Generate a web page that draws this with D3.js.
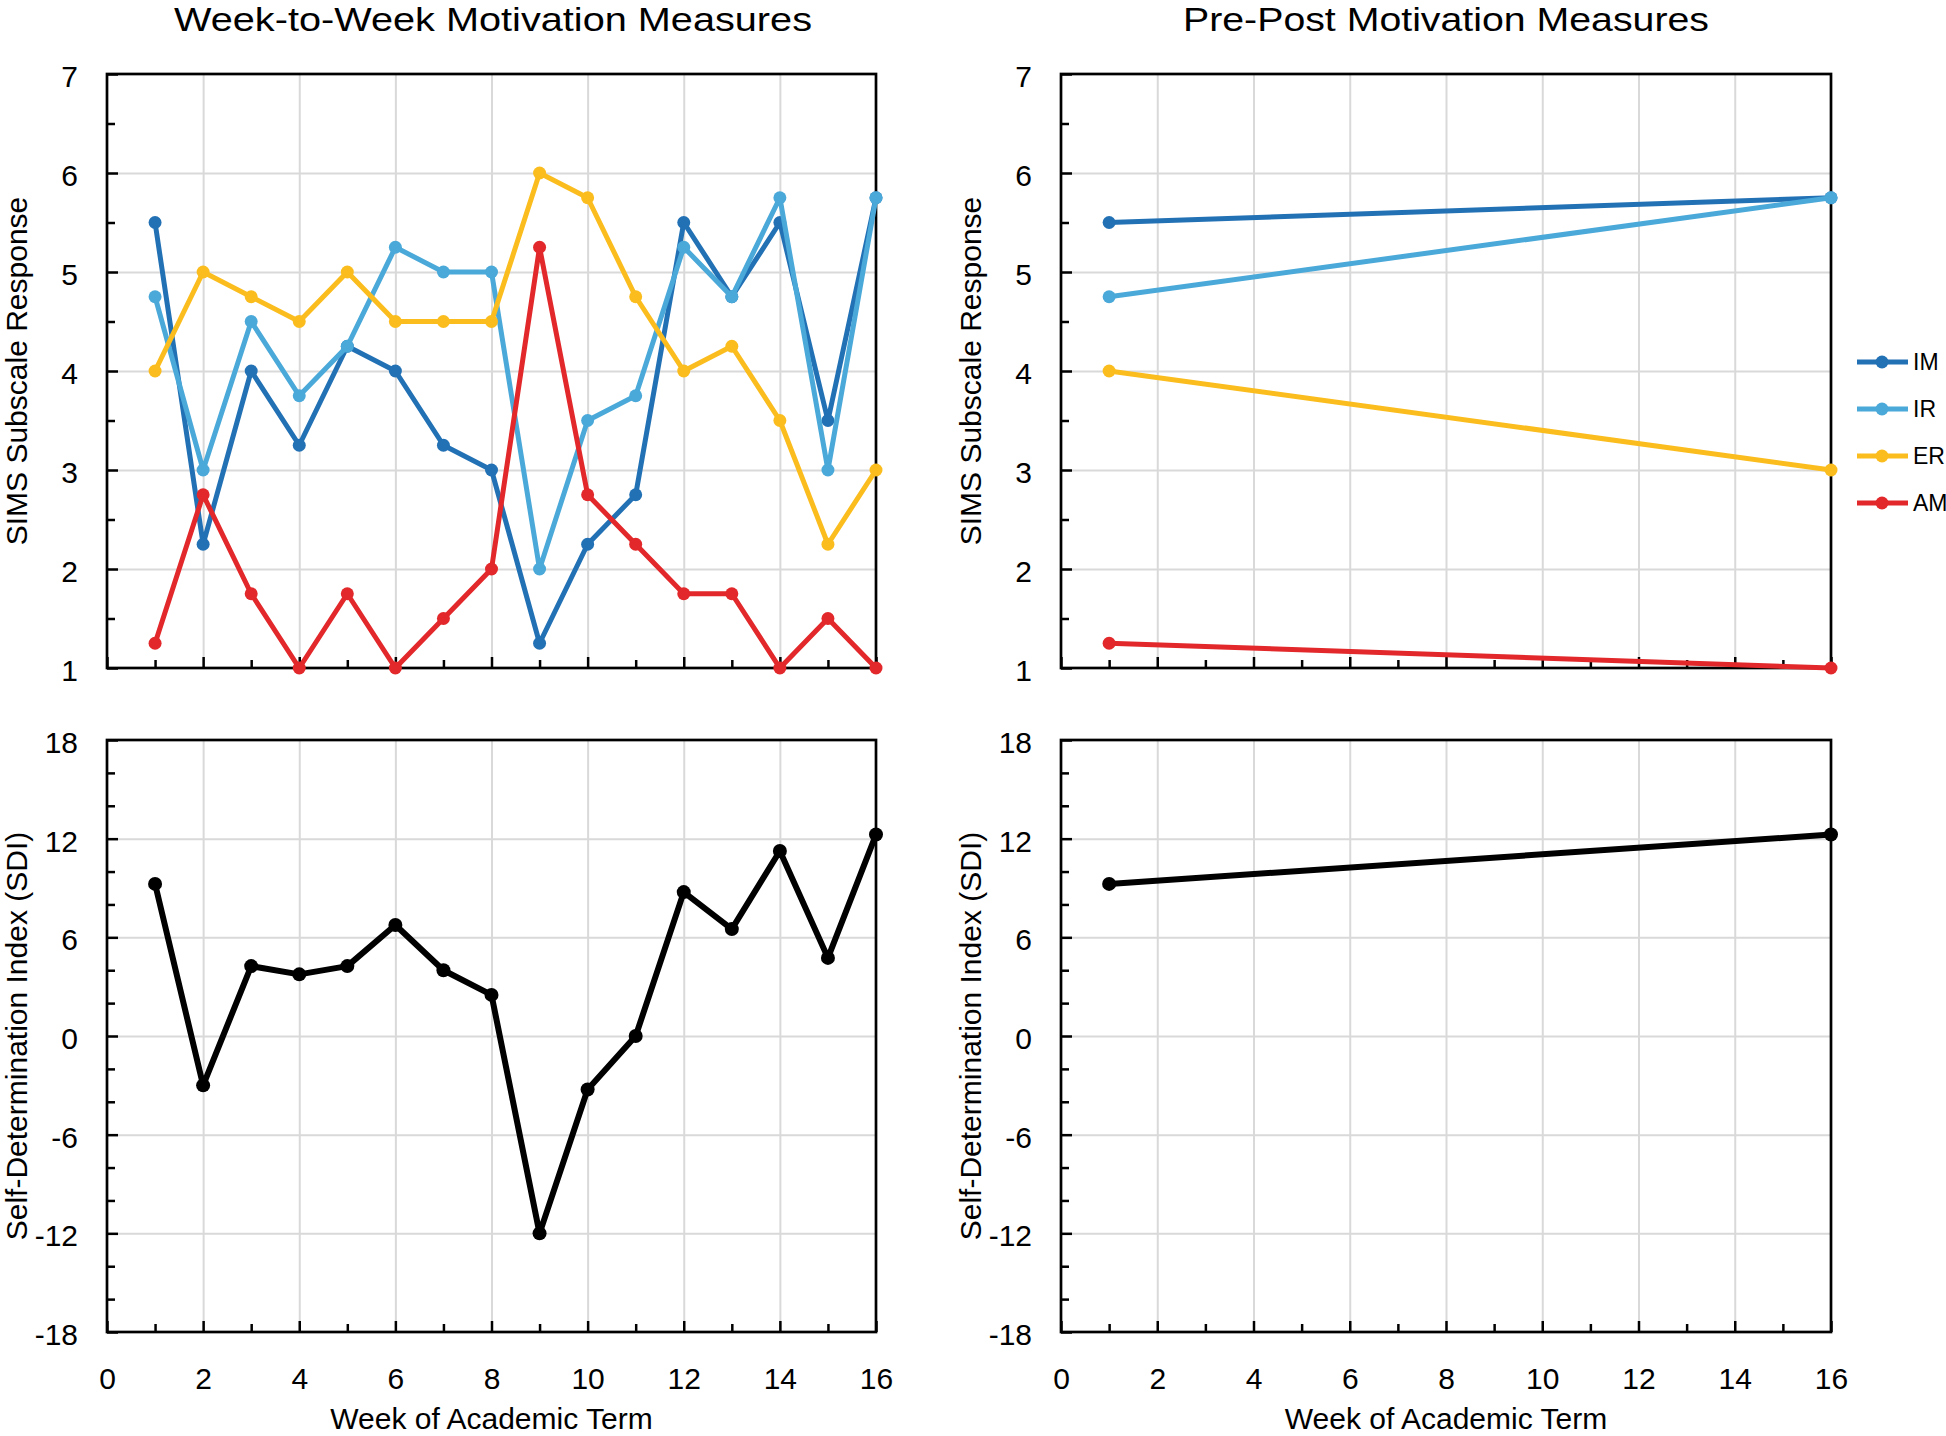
<!DOCTYPE html>
<html>
<head>
<meta charset="utf-8">
<script src="https://cdn.jsdelivr.net/npm/d3@7"></script>
<style>
  body { margin: 0; background: #fff; }
  svg { display: block; font-family: "Liberation Sans", Arial, sans-serif; }
</style>
</head>
<body>
<svg id="chart" width="1946" height="1436"></svg>
<script>
// weeks of the term
const weeks = [1, 2, 3, 4, 5, 6, 7, 8, 9, 10, 11, 12, 13, 14, 15, 16];
const prePostWeeks = [1, 16];

// SIMS subscales, week to week
const imWeekly = [5.5, 2.25, 4, 3.25, 4.25, 4, 3.25, 3, 1.25, 2.25, 2.75, 5.5, 4.75, 5.5, 3.5, 5.75];
const irWeekly = [4.75, 3, 4.5, 3.75, 4.25, 5.25, 5, 5, 2, 3.5, 3.75, 5.25, 4.75, 5.75, 3, 5.75];
const erWeekly = [4, 5, 4.75, 4.5, 5, 4.5, 4.5, 4.5, 6, 5.75, 4.75, 4, 4.25, 3.5, 2.25, 3];
const amWeekly = [1.25, 2.75, 1.75, 1, 1.75, 1, 1.5, 2, 5.25, 2.75, 2.25, 1.75, 1.75, 1, 1.5, 1];
const sdiWeekly = [9.25, -3, 4.25, 3.75, 4.25, 6.75, 4, 2.5, -12, -3.25, 0, 8.75, 6.5, 11.25, 4.75, 12.25];

// pre / post
const imPrePost = [5.5, 5.75];
const irPrePost = [4.75, 5.75];
const erPrePost = [4, 3];
const amPrePost = [1.25, 1];
const sdiPrePost = [9.25, 12.25];

const seriesNames = ["IM", "IR", "ER", "AM"];
const colors = { IM: "#2271b5", IR: "#4aa9d9", ER: "#fbbd1e", AM: "#e2282a" };

const simsTicks = [1, 2, 3, 4, 5, 6, 7];
const simsMinor = [1.5, 2.5, 3.5, 4.5, 5.5, 6.5];
const sdiTicks = [-18, -12, -6, 0, 6, 12, 18];
const sdiMinor = [-16, -14, -10, -8, -4, -2, 2, 4, 8, 10, 14, 16];
const xTicks = [0, 2, 4, 6, 8, 10, 12, 14, 16];
const xMinor = [1, 3, 5, 7, 9, 11, 13, 15];

const svg = d3.select("#chart");
const FONT = "Liberation Sans, Arial, sans-serif";

const cols = [{ x0: 107, x1: 876 }, { x0: 1061, x1: 1831 }];
const rows = [{ y0: 74, y1: 668 }, { y0: 740, y1: 1332 }];

function panel(col, row, opts) {
  const x = d3.scaleLinear().domain([0, 16]).range([col.x0, col.x1]);
  const y = d3.scaleLinear().domain(opts.domain).range([row.y1, row.y0]);
  const w = col.x1 - col.x0, h = row.y1 - row.y0;
  const g = svg.append("g");

  // grid
  g.append("g")
    .attr("transform", `translate(0,${row.y1})`)
    .call(d3.axisBottom(x).tickValues(xTicks.slice(1, -1)).tickSize(-h).tickFormat(""))
    .call(s => s.select(".domain").remove())
    .call(s => s.selectAll("line").attr("stroke", "#d9d9d9").attr("stroke-width", 2));
  g.append("g")
    .attr("transform", `translate(${col.x0},0)`)
    .call(d3.axisLeft(y).tickValues(opts.ticks.slice(1, -1)).tickSize(-w).tickFormat(""))
    .call(s => s.select(".domain").remove())
    .call(s => s.selectAll("line").attr("stroke", "#d9d9d9").attr("stroke-width", 2));

  // inward ticks
  const yAx = g.append("g")
    .attr("transform", `translate(${col.x0},0)`)
    .call(d3.axisLeft(y).tickValues(opts.ticks).tickSize(-11).tickPadding(29).tickFormat(d => String(d)));
  yAx.select(".domain").remove();
  yAx.selectAll("line").attr("stroke", "#000").attr("stroke-width", 2.5);
  yAx.selectAll("text").attr("font-size", 30).attr("fill", "#000").attr("dy", "0.42em")
    .attr("font-family", FONT);
  g.append("g")
    .attr("transform", `translate(${col.x0},0)`)
    .call(d3.axisLeft(y).tickValues(opts.minor).tickSize(-8).tickFormat(""))
    .call(s => s.select(".domain").remove())
    .call(s => s.selectAll("line").attr("stroke", "#000").attr("stroke-width", 2.5));

  const xAx = g.append("g")
    .attr("transform", `translate(0,${row.y1})`)
    .call(d3.axisBottom(x).tickValues(xTicks).tickSize(-11).tickPadding(36)
      .tickFormat(opts.xLabels ? (d => String(d)) : ""));
  xAx.select(".domain").remove();
  xAx.selectAll("line").attr("stroke", "#000").attr("stroke-width", 2.5);
  xAx.selectAll("text").attr("font-size", 30).attr("fill", "#000")
    .attr("font-family", FONT);
  g.append("g")
    .attr("transform", `translate(0,${row.y1})`)
    .call(d3.axisBottom(x).tickValues(xMinor).tickSize(-8).tickFormat(""))
    .call(s => s.select(".domain").remove())
    .call(s => s.selectAll("line").attr("stroke", "#000").attr("stroke-width", 2.5));

  // frame
  g.append("rect")
    .attr("x", col.x0).attr("y", row.y0).attr("width", w).attr("height", h)
    .attr("fill", "none").attr("stroke", "#000").attr("stroke-width", 2.7);

  // y title
  g.append("text")
    .attr("transform", `translate(${col.x0 - 80},${(row.y0 + row.y1) / 2}) rotate(-90)`)
    .attr("text-anchor", "middle")
    .attr("font-size", 30)
    .text(opts.yTitle);

  if (opts.xLabels) {
    g.append("text")
      .attr("x", (col.x0 + col.x1) / 2).attr("y", 1429)
      .attr("text-anchor", "middle").attr("font-size", 30)
      .text("Week of Academic Term");
  }

  const line = d3.line().x(d => x(d[0])).y(d => y(d[1]));
  opts.series.forEach(s => {
    const pts = s.xs.map((v, i) => [v, s.values[i]]);
    g.append("path").datum(pts)
      .attr("d", line).attr("fill", "none")
      .attr("stroke", s.color).attr("stroke-width", s.width)
      .attr("stroke-linejoin", "round");
    g.selectAll(null).data(pts).join("circle")
      .attr("cx", d => x(d[0])).attr("cy", d => y(d[1]))
      .attr("r", s.r).attr("fill", s.color);
  });
  return { x, y };
}

const weeklySims = [imWeekly, irWeekly, erWeekly, amWeekly];
const prePostSims = [imPrePost, irPrePost, erPrePost, amPrePost];

panel(cols[0], rows[0], {
  domain: [1, 7], ticks: simsTicks, minor: simsMinor, xLabels: false,
  yTitle: "SIMS Subscale Response",
  series: seriesNames.map((n, i) => ({ xs: weeks, values: weeklySims[i], color: colors[n], width: 5, r: 6.5 }))
});
panel(cols[1], rows[0], {
  domain: [1, 7], ticks: simsTicks, minor: simsMinor, xLabels: false,
  yTitle: "SIMS Subscale Response",
  series: seriesNames.map((n, i) => ({ xs: prePostWeeks, values: prePostSims[i], color: colors[n], width: 5, r: 6.5 }))
});
panel(cols[0], rows[1], {
  domain: [-18, 18], ticks: sdiTicks, minor: sdiMinor, xLabels: true,
  yTitle: "Self-Determination Index (SDI)",
  series: [{ xs: weeks, values: sdiWeekly, color: "#000", width: 6, r: 7 }]
});
panel(cols[1], rows[1], {
  domain: [-18, 18], ticks: sdiTicks, minor: sdiMinor, xLabels: true,
  yTitle: "Self-Determination Index (SDI)",
  series: [{ xs: prePostWeeks, values: sdiPrePost, color: "#000", width: 6, r: 7 }]
});

// titles
svg.append("text").attr("x", 493).attr("y", 31).attr("text-anchor", "middle")
  .attr("font-size", 34).attr("textLength", 638).attr("lengthAdjust", "spacingAndGlyphs")
  .text("Week-to-Week Motivation Measures");
svg.append("text").attr("x", 1446).attr("y", 31).attr("text-anchor", "middle")
  .attr("font-size", 34).attr("textLength", 526).attr("lengthAdjust", "spacingAndGlyphs")
  .text("Pre-Post Motivation Measures");

// legend
const legend = svg.append("g").attr("transform", "translate(1857,362)");
seriesNames.forEach((n, i) => {
  const lg = legend.append("g").attr("transform", `translate(0,${i * 47})`);
  lg.append("line").attr("x1", 0).attr("x2", 51).attr("stroke", colors[n]).attr("stroke-width", 5);
  lg.append("circle").attr("cx", 25).attr("r", 6.5).attr("fill", colors[n]);
  lg.append("text").attr("x", 56).attr("dy", "0.36em").attr("font-size", 23).text(n);
});
</script>
</body>
</html>
